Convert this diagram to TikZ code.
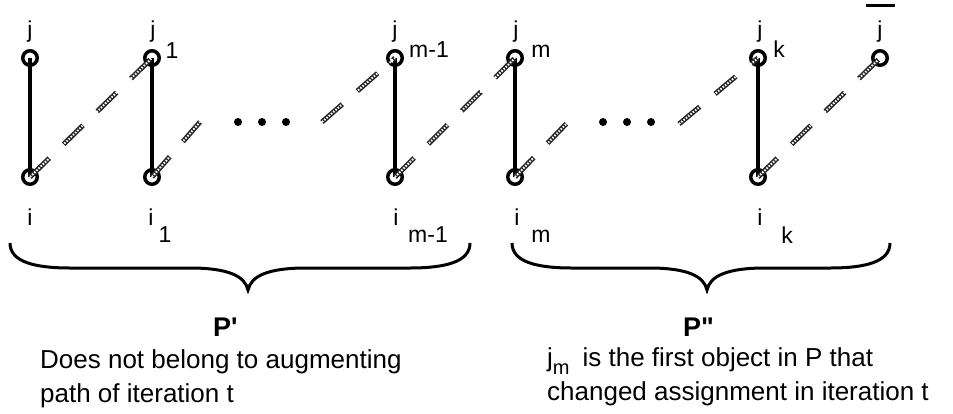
\documentclass[tikz,border=0pt]{standalone}
\usepackage{fontspec}
\setmainfont{Liberation Sans}

\begin{document}
\begin{tikzpicture}[
    x=1pt, y=-1pt,
    vertex/.style={circle, draw, line width=3.5, minimum size=14.5, inner sep=0},
    pt/.style={circle, fill, minimum size=8, inner sep=0},
    assigned/.style={line width=4},
    alternating/.style={line width=5, draw=black!85, dash pattern=on 27 off 20,
      postaction={draw=white, line width=2, dash pattern=on 1.5 off 1.5}},
    lbl/.style={inner sep=0, anchor=base, font=\fontsize{23}{27}\selectfont},
    txt/.style={inner sep=0, anchor=base west, align=left, font=\fontsize{26}{34}\selectfont},
    big/.style={inner sep=0, anchor=base west, font=\fontsize{27}{30}\selectfont\bfseries},
    curly/.style={line width=3},
  ]
  \useasboundingbox (0,0) rectangle (953,413);

  % objects (top) and persons (bottom)
  \node[vertex] (j0)   at (30,58)  {};
  \node[vertex] (i0)   at (30,177) {};
  \node[vertex] (j1)   at (152,58) {};
  \node[vertex] (i1)   at (152,177) {};
  \node[vertex] (jm1)  at (395,58) {};
  \node[vertex] (im1)  at (395,177) {};
  \node[vertex] (jm)   at (515,58) {};
  \node[vertex] (im)   at (515,177) {};
  \node[vertex] (jk)   at (758,58) {};
  \node[vertex] (ik)   at (758,177) {};
  \node[vertex] (jbar) at (880,58) {};

  % the dots
  \node[pt] (d1) at (238,122) {};
  \node[pt] (d2) at (262,122) {};
  \node[pt] (d3) at (286,122) {};
  \node[pt] (e1) at (603,122) {};
  \node[pt] (e2) at (627,122) {};
  \node[pt] (e3) at (651,122) {};

  % loose ends next to the dots
  \coordinate (a1) at (200,122);
  \coordinate (a2) at (322,122);
  \coordinate (b1) at (568,122);
  \coordinate (b2) at (679,124);

  % assignment
  \draw[assigned] (j0.center) -- (i0.center);
  \draw[assigned] (j1.center) -- (i1.center);
  \draw[assigned] (jm1.center) -- (im1.center);
  \draw[assigned] (jm.center) -- (im.center);
  \draw[assigned] (jk.center) -- (ik.center);

  % path
  \draw[alternating] (i0.center) -- (j1.center);
  \draw[alternating] (i1.center) -- (a1);
  \draw[alternating] (a2) -- (jm1.center);
  \draw[alternating] (im1.center) -- (jm.center);
  \draw[alternating] (im.center) -- (b1);
  \draw[alternating] (b2) -- (jk.center);
  \draw[alternating] (ik.center) -- (jbar.center);

  % names of the objects
  \node[lbl] (lj0)  at (30,37)  {j};
  \node[lbl] (lj1)  at (153,37) {j};
  \node[lbl] (sj1)  at (172,58) {1};
  \node[lbl] (ljm1) at (395,37) {j};
  \node[lbl] (sjm1) at (429,57) {m-1};
  \node[lbl] (ljm)  at (516,37) {j};
  \node[lbl] (sjm)  at (541,57) {m};
  \node[lbl] (ljk)  at (760,37) {j};
  \node[lbl] (sjk)  at (779,57) {k};
  \node[lbl] (ljb)  at (880,37) {j\llap{\rule[30pt]{29pt}{3pt}\hspace{-12pt}}};

  % names of the persons
  \node[lbl] (li0)  at (30,225)  {i};
  \node[lbl] (li1)  at (151,225) {i};
  \node[lbl] (si1)  at (165,242) {1};
  \node[lbl] (lim1) at (396,225) {i};
  \node[lbl] (sim1) at (428,242) {m-1};
  \node[lbl] (lim)  at (517,225) {i};
  \node[lbl] (sim)  at (541,242) {m};
  \node[lbl] (lik)  at (760,225) {i};
  \node[lbl] (sik)  at (787,243) {k};

  % the two parts
  \draw[curly] (10,243) .. controls (10,262) and (35,268) .. (70,268) -- (190,268)
    .. controls (228,268) and (245,276) .. (248,290)
    .. controls (251,276) and (268,268) .. (306,268) -- (410,268)
    .. controls (445,268) and (470,262) .. (470,243);
  \draw[curly] (512,243) .. controls (512,262) and (537,268) .. (572,268) -- (649,268)
    .. controls (687,268) and (704,276) .. (707,290)
    .. controls (710,276) and (727,268) .. (765,268) -- (830,268)
    .. controls (865,268) and (890,262) .. (890,243);

  \node[big] (p1) at (213,336) {P\textquotesingle};
  \node[big] (p2) at (683,336) {P\textquotedbl};
  \node[txt] (t1) at (40,402) {Does not belong to augmenting\\path of iteration t};
  \node[txt] (t2) at (547,400) {j\raisebox{-8pt}{\fontsize{20}{20}\selectfont m}\hspace{13pt}is the first object in P that\\changed assignment in iteration t};
\end{tikzpicture}
\end{document}
